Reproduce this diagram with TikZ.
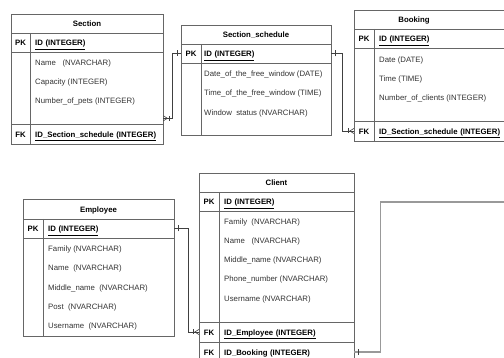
\documentclass[tikz,border=0pt]{standalone}
\usepackage{fontspec}
\setmainfont{Liberation Sans}
\usepackage{tikz}
\tikzset{
  tbl/.style={draw=black!60, line width=0.8pt},
  link/.style={draw=black!75, line width=0.6pt},
  farlink/.style={draw=black!40, line width=1.2pt},
  txt/.style={text height=8.6pt, text depth=1.6pt},
  hdr/.style={txt, font=\fontsize{7.8}{9}\selectfont\bfseries},
  keycell/.style={txt, font=\fontsize{7.8}{9}\selectfont\bfseries, minimum height=19pt, inner sep=0pt},
  idcell/.style={txt, anchor=west, font=\fontsize{7.8}{9}\selectfont\bfseries, minimum height=19pt, inner xsep=5pt, inner ysep=0pt},
  fld/.style={txt, anchor=west, inner sep=0pt, font=\fontsize{7.8}{9}\selectfont, text=black!80},
  crow/.pic={\draw[link] (0,-2.5) -- (-4,0) -- (0,2.5); \draw[link] (-5.5,-2.5) -- (-5.5,2.5);},
  one/.pic={\draw[link] (-4,-3) -- (-4,3);}
}
\begin{document}
\begin{tikzpicture}[x=1pt,y=-1pt]
\useasboundingbox (0,0) rectangle (504,358);
% Section
\draw[tbl] (11,14) rectangle (163,144);
\draw[tbl] (11,33) -- (163,33) (11,52) -- (163,52) (11,124) -- (163,124) (30,33) -- (30,144);
\node[hdr] (sechead) at (87,23.5) {Section};
\node[keycell, minimum width=19pt] (secpk) at (20.5,42.5) {PK};
\node[idcell, text width=123pt] (secid) at (30,42.5) {\underline{ID (INTEGER)}};
\node[fld] (secname) at (35,62) {Name\ \ \ (NVARCHAR)};
\node[fld] (seccap) at (35,81) {Capacity (INTEGER)};
\node[fld] (secpets) at (35,100) {Number\_of\_pets (INTEGER)};
\node[keycell, minimum width=19pt] (secfkk) at (20.5,134) {FK};
\node[idcell, text width=123pt] (secfk) at (30,134) {\underline{ID\_Section\_schedule (INTEGER)}};
\coordinate (secout) at ([yshift=6pt]secfk.north east);
% Section_schedule
\draw[tbl] (181,25) rectangle (331,135);
\draw[tbl] (181,44) -- (331,44) (181,63) -- (331,63) (201,44) -- (201,135);
\node[hdr] (schhead) at (256,34.5) {Section\_schedule};
\node[keycell, minimum width=20pt] (schpk) at (191,53.5) {PK};
\node[idcell, text width=124pt, inner xsep=3pt] (schid) at (201,53.5) {\underline{ID (INTEGER)}};
\node[fld] (schdate) at (204,73) {Date\_of\_the\_free\_window (DATE)};
\node[fld] (schtime) at (204,92) {Time\_of\_the\_free\_window (TIME)};
\node[fld] (schstat) at (204,112) {Window\ \ status (NVARCHAR)};
% Booking
\draw[tbl] (354,10) rectangle (512,141);
\draw[tbl] (354,29) -- (512,29) (354,48) -- (512,48) (354,121) -- (512,121) (374,29) -- (374,141);
\node[hdr] (bookhead) at (414,19.5) {Booking};
\node[keycell, minimum width=20pt] (bookpk) at (364,38.5) {PK};
\node[idcell, text width=128pt] (bookid) at (374,38.5) {\underline{ID (INTEGER)}};
\node[fld] (bookdate) at (379,59) {Date (DATE)};
\node[fld] (booktime) at (379,78) {Time (TIME)};
\node[fld] (booknum) at (379,97) {Number\_of\_clients (INTEGER)};
\node[keycell, minimum width=20pt] (bookfk) at (364,131) {FK};
\node[idcell, text width=128pt] (booksch) at (374,131) {\underline{ID\_Section\_schedule (INTEGER)}};
% Employee
\draw[tbl] (23,199) rectangle (174,336);
\draw[tbl] (23,219) -- (174,219) (23,238) -- (174,238) (43,219) -- (43,336);
\node[hdr] (emphead) at (98.5,209) {Employee};
\node[keycell, minimum width=20pt] (emppk) at (33,228.5) {PK};
\node[idcell, text width=121pt] (empid) at (43,228.5) {\underline{ID (INTEGER)}};
\node[fld] (empfam) at (48,248) {Family (NVARCHAR)};
\node[fld] (empname) at (48,267) {Name\ \ (NVARCHAR)};
\node[fld] (empmid) at (48,287) {Middle\_name\ \ (NVARCHAR)};
\node[fld] (emppost) at (48,306) {Post\ \ (NVARCHAR)};
\node[fld] (empuser) at (48,325) {Username\ \ (NVARCHAR)};
% Client
\draw[tbl] (199,173) rectangle (354,366);
\draw[tbl] (199,192) -- (354,192) (199,211) -- (354,211) (199,322) -- (354,322) (199,342) -- (354,342) (219,192) -- (219,366);
\node[hdr] (clihead) at (276.5,182.5) {Client};
\node[keycell, minimum width=20pt] (clipk) at (209,201.5) {PK};
\node[idcell, text width=125pt] (cliid) at (219,201.5) {\underline{ID (INTEGER)}};
\node[fld] (clifam) at (224,221) {Family\ \ (NVARCHAR)};
\node[fld] (cliname) at (224,240) {Name\ \ \ (NVARCHAR)};
\node[fld] (climid) at (224,259) {Middle\_name (NVARCHAR)};
\node[fld] (cliphone) at (224,278) {Phone\_number (NVARCHAR)};
\node[fld] (cliuser) at (224,298) {Username (NVARCHAR)};
\node[keycell, minimum width=20pt] (clifke) at (209,332) {FK};
\node[idcell, text width=125pt] (cliemp) at (219,332) {\underline{ID\_Employee (INTEGER)}};
\node[keycell, minimum width=20pt] (clifkb) at (209,352) {FK};
\node[idcell, text width=125pt] (clibk) at (219,352) {\underline{ID\_Booking (INTEGER)}};
\coordinate (offpage) at (504,202);
% links
\draw[link] (schpk.west) -- ++(-9,0) |- (secout);
\pic at (schpk.west) {one};
\pic[rotate=180] at (secout) {crow};
\draw[link] (schid.east) -- ++(11,0) |- (bookfk.west);
\pic[rotate=180] at (schid.east) {one};
\pic at (bookfk.west) {crow};
\draw[link] (empid.east) -- ++(14,0) |- (clifke.west);
\pic[rotate=180] at (empid.east) {one};
\pic at (clifke.west) {crow};
\draw[farlink] (clibk.east) -- ++(26,0) |- (offpage);
\pic[rotate=180] at (clibk.east) {one};
\end{tikzpicture}
\end{document}
